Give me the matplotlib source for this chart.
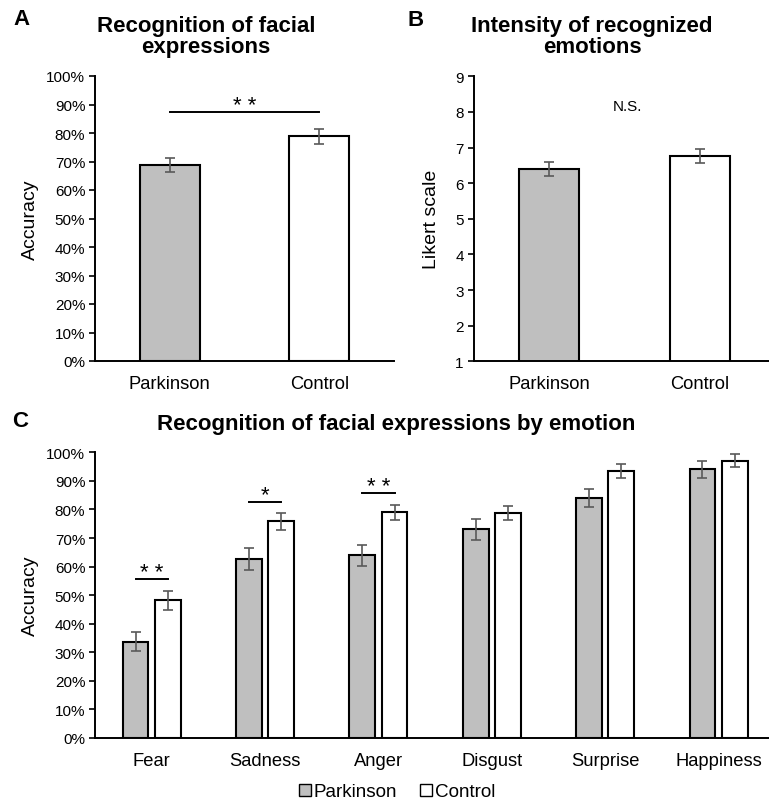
import matplotlib
matplotlib.use("Agg")
import matplotlib.pyplot as plt
from matplotlib.ticker import PercentFormatter, MultipleLocator
from matplotlib.patches import Patch
import numpy as np

plt.rcParams['font.family'] = ['Liberation Sans', 'DejaVu Sans']

# Panel A: overall recognition accuracy
groups = ["Parkinson", "Control"]
acc_mean = [68.7, 78.8]
acc_err = [2.5, 2.5]

# Panel B: intensity ratings (Likert)
lik_mean = [6.40, 6.77]
lik_err = [0.20, 0.20]

# Panel C: accuracy by emotion
emotions = ["Fear", "Sadness", "Anger", "Disgust", "Surprise", "Happiness"]
park_mean = [33.7, 62.8, 63.9, 73.0, 84.0, 94.0]
park_err = [3.4, 3.85, 3.6, 3.7, 3.3, 2.9]
ctrl_mean = [48.2, 75.8, 79.0, 78.8, 93.6, 97.0]
ctrl_err = [3.3, 3.0, 2.6, 2.45, 2.45, 2.3]
sig_emotions = {"Fear": "* *", "Sadness": "*", "Anger": "* *"}
sig_height = {"Fear": 55.5, "Sadness": 82.7, "Anger": 85.6}

GREY = "#BFBFBF"
ERR = "#595959"
fills = [GREY, "white"]
W, H = 769, 803
fig = plt.figure(figsize=(W / 100, H / 100), dpi=100)


def axes_px(l, r, t, b):
    return fig.add_axes([l / W, 1 - b / H, (r - l) / W, (b - t) / H])


def style(ax):
    for s in ("top", "right"):
        ax.spines[s].set_visible(False)
    for s in ("left", "bottom"):
        ax.spines[s].set_linewidth(1.4)
        ax.spines[s].set_color("black")
    ax.tick_params(axis="y", direction="out", length=4, width=1.2,
                   labelsize=11, colors="black", pad=3)
    ax.tick_params(axis="x", length=0, labelsize=13.2, pad=10)
    ax.set_facecolor("none")


def stars(ax, x, y, s):
    ax.annotate(s, (x, y), xytext=(0, 0.8), textcoords="offset points",
                ha="center", va="baseline", fontsize=16)


ebkw = dict(ecolor=ERR, elinewidth=1.2, capsize=3.5, capthick=1.2)

# ---- A ----
axA = axes_px(95, 394, 77, 362)
xA = np.arange(len(groups))
axA.bar(xA, acc_mean, width=0.4, color=fills, edgecolor="black", linewidth=1.5,
        yerr=acc_err, error_kw=ebkw, zorder=2)
axA.set_xlim(-0.5, 1.5)
axA.set_ylim(0, 100)
axA.yaxis.set_major_locator(MultipleLocator(10))
axA.yaxis.set_major_formatter(PercentFormatter(decimals=0))
axA.set_xticks(xA, groups)
axA.set_ylabel("Accuracy", fontsize=14, labelpad=5)
style(axA)
axA.plot([0, 1], [87.5, 87.5], color="black", lw=1.4)
stars(axA, 0.5, 87.5, "* *")

# ---- B ----
axB = axes_px(473.5, 769, 77.3, 362.3)
axB.bar(xA, lik_mean, width=0.4, color=fills, edgecolor="black", linewidth=1.5,
        yerr=lik_err, error_kw=ebkw, zorder=2, bottom=0)
axB.set_xlim(-0.5, 1.457)
axB.set_ylim(1, 9)
axB.yaxis.set_major_locator(MultipleLocator(1))
axB.set_xticks(xA, groups)
axB.set_ylabel("Likert scale", fontsize=14, labelpad=11)
style(axB)
axB.text(0.52, 8.17, "N.S.", ha="center", va="center", fontsize=11)

# ---- C ----
axC = axes_px(95, 769, 453.3, 739)
xC = np.arange(len(emotions))
bw, off = 0.227, 0.142
axC.bar(xC - off, park_mean, width=bw, color=GREY, edgecolor="black", linewidth=1.5,
        yerr=park_err, error_kw=ebkw, zorder=2)
axC.bar(xC + off, ctrl_mean, width=bw, color="white", edgecolor="black", linewidth=1.5,
        yerr=ctrl_err, error_kw=ebkw, zorder=2)
axC.set_xlim(-0.5, 5.445)
axC.set_ylim(0, 100)
axC.yaxis.set_major_locator(MultipleLocator(10))
axC.yaxis.set_major_formatter(PercentFormatter(decimals=0))
axC.set_xticks(xC, emotions)
axC.set_ylabel("Accuracy", fontsize=14, labelpad=5)
style(axC)
for i, emo in enumerate(emotions):
    if emo in sig_emotions:
        y = sig_height[emo]
        axC.plot([i - off, i + off], [y, y], color="black", lw=1.4)
        stars(axC, i, y, sig_emotions[emo])

handles = [Patch(facecolor=GREY, edgecolor="black", linewidth=1.0, label="Parkinson"),
           Patch(facecolor="white", edgecolor="black", linewidth=1.0, label="Control")]
fig.legend(handles=handles, loc="center", bbox_to_anchor=(397 / W, 1 - 793 / H),
           ncol=2, frameon=False, fontsize=13.6, handlelength=0.65, handleheight=0.65,
           handletextpad=0.15, columnspacing=1.2, borderpad=0)

# ---- titles and panel letters ----
tkw = dict(fontsize=16, fontweight="bold", ha="center", va="center", linespacing=1.05)
fig.text(206 / W, 1 - 37 / H, "Recognition of facial\nexpressions", **tkw)
fig.text(592 / W, 1 - 37 / H, "Intensity of recognized\nemotions", **tkw)
fig.text(396 / W, 1 - 425 / H, "Recognition of facial expressions by emotion", **tkw)
lkw = dict(fontsize=16, fontweight="bold", ha="center", va="center")
fig.text(21.5 / W, 1 - 19.5 / H, "A", **lkw)
fig.text(416 / W, 1 - 20 / H, "B", **lkw)
fig.text(20 / W, 1 - 422 / H, "C", **lkw)

fig.savefig("out.png", dpi=100, facecolor="white")
